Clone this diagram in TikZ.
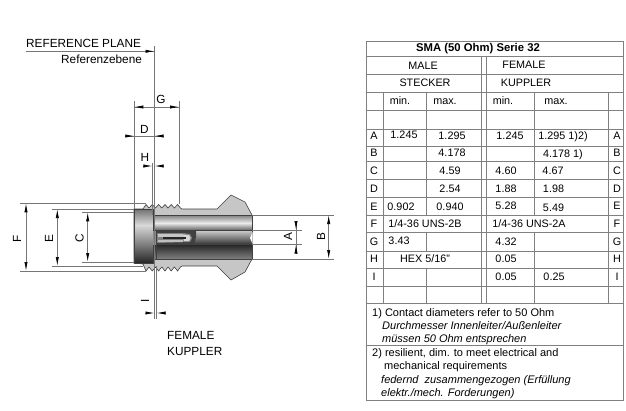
\documentclass[tikz,border=0pt]{standalone}
\usepackage{fontspec}
\setmainfont{Liberation Sans}
\usetikzlibrary{arrows.meta}
\definecolor{dimgray}{HTML}{767676}
\definecolor{rulegray}{HTML}{808080}
\definecolor{bodygray}{HTML}{C6C6C6}
\tikzset{
  dimline/.style={draw=dimgray,line width=0.7pt},
  gridline/.style={draw=rulegray,line width=0.8pt},
  outline/.style={draw=black!75,line width=0.6pt},
  tip/.style={-{Latex[length=9pt,width=3.2pt,black]}},
  tiplr/.style={{Latex[length=9pt,width=3.2pt,black]}-{Latex[length=9pt,width=3.2pt,black]}},
  lab/.style={inner sep=0pt,font=\fontsize{10.8}{12}\selectfont,anchor=base},
  biglab/.style={inner sep=0pt,font=\fontsize{11.8}{13}\selectfont,anchor=base},
  bigl/.style={biglab,anchor=base west},
  note/.style={inner sep=0pt,font=\fontsize{11}{12}\selectfont,anchor=base west},
  notei/.style={note,font=\fontsize{11}{12}\selectfont\itshape},
}
\begin{document}
\begin{tikzpicture}[x=1pt,y=-1pt]
\useasboundingbox (0,0) rectangle (626,410);
% ---- connector body
\path[fill=bodygray,outline] (134,209) -- (143,209) -- (146,204.5) -- (149,208) -- (152.3,204.5) -- (155.5,208) -- (158.6,204.5) -- (161.8,208) -- (165,204.5) -- (168,208) -- (171.2,204.5) -- (174.4,208) -- (177.6,204.5) -- (180.5,208) -- (182,209)
  -- (217,209) -- (231,195) -- (245,202) -- (252,215) -- (252,259) -- (245,272) -- (231,280) -- (217,266)
  -- (182,266) -- (180.5,267) -- (177.6,271) -- (174.4,267) -- (171.2,271) -- (168,267) -- (165,271) -- (161.8,267) -- (158.6,271) -- (155.5,267) -- (152.3,271) -- (149,267) -- (146,271) -- (143,264) -- (134,263) -- cycle;
% cap
\shade[top color=black!55,bottom color=black!15] (134.3,209) rectangle (153,225);
\shade[top color=black!15,bottom color=black!85] (134.3,225) rectangle (153,263);
\draw[outline] (134.3,209) rectangle (153,263);
% tube bands
\shade[top color=black!50,bottom color=black!8] (153,215) rectangle (252,223);
\shade[top color=black!8,bottom color=black!60] (153,223) rectangle (252,230);
\shade[top color=black!18,bottom color=black!80] (153,230) rectangle (252,244.5);
\shade[top color=black!85,bottom color=black!50] (153,244.5) rectangle (252,259);
\draw[outline] (153,215) rectangle (252,259);
\draw[outline] (153,230) -- (252,230) (153,244.5) -- (252,244.5);
\fill[white] (252.6,232) -- (250,238) -- (252.6,244) -- cycle;
% pin
\fill[black!75] (153,231) -- (196,231) -- (196,237) -- (194,244.5) -- (153,244.5) -- cycle;
\fill[black!45] (153,231) rectangle (157,244.5);
\draw[outline] (156.7,231) -- (156.7,259);
\fill[black!50] (157,233) -- (183,233) -- (190,234) -- (192,238) -- (190,242) -- (157,243) -- cycle;
\fill[black!22] (158,234) rectangle (183,236.5);
\fill[black!15] (183,234.5) -- (189,235) -- (190.5,238) -- (189,241) -- (184,241) -- cycle;
\fill[black!85] (163,237) rectangle (186,239);
\fill[black!25] (158,240) rectangle (183,242);
% ---- dimension lines
\draw[dimline] (26,51.3) -- (154.5,51.3);
\draw[tip,dimline] (143,51.3) -- (154.5,51.3);
\draw[dimline] (154.5,46) -- (154.5,319);
\draw[dimline] (134.3,101) -- (134.3,209);
\draw[dimline] (179,101) -- (179,204);
\draw[dimline] (152.4,163) -- (152.4,215);
\draw[dimline] (156.5,266) -- (156.5,319);
% G
\draw[dimline] (134.3,107) -- (179,107);
\draw[tip,dimline] (144,107) -- (134.3,107);
\draw[tip,dimline] (170,107) -- (179,107);
% D
\draw[dimline] (125,136) -- (164,136);
\draw[tip,dimline] (125,136) -- (134.3,136);
\draw[tip,dimline] (164,136) -- (154.5,136);
% H
\draw[tip,dimline] (143,166) -- (152.4,166);
\draw[tip,dimline] (164,166) -- (154.5,166);
% I
\draw[tip,dimline] (145,313) -- (154.5,313);
\draw[tip,dimline] (166,313) -- (156.5,313);
% F E C
\draw[dimline] (20,203.3) -- (146,203.3) (20,271) -- (146,271);
\draw[tiplr,dimline] (26,203.3) -- (26,271);
\draw[dimline] (52,209) -- (134,209) (52,266) -- (143,266);
\draw[tiplr,dimline] (57.3,209) -- (57.3,266);
\draw[dimline] (82,212.3) -- (134,212.3) (82,262) -- (134,262);
\draw[tiplr,dimline] (87.7,212.3) -- (87.7,262);
% A B
\draw[dimline] (252,230) -- (302,230) (252,244.5) -- (302,244.5);
\draw[dimline] (296,221) -- (296,254);
\draw[tip,dimline] (296,221) -- (296,230);
\draw[tip,dimline] (296,254) -- (296,244.5);
\draw[dimline] (252,215) -- (334,215) (252,259) -- (334,259);
\draw[tiplr,dimline] (328.7,215) -- (328.7,259);
% ---- drawing labels
\node[bigl] (refplane) at (26,47) {REFERENCE PLANE};
\node[bigl] (refebene) at (61,63) {Referenzebene};
\node[biglab] (lg) at (161,103.5) {G};
\node[biglab] (ld) at (144.5,133) {D};
\node[biglab] (lh) at (145,161.5) {H};
\node[biglab,rotate=90,anchor=base] (li) at (149,301) {I};
\node[biglab,rotate=90] (lf) at (21,239) {F};
\node[biglab,rotate=90] (le) at (53,239) {E};
\node[biglab,rotate=90] (lc) at (83.5,238) {C};
\node[biglab,rotate=90] (la) at (292,237) {A};
\node[biglab,rotate=90] (lb) at (325,237) {B};
\node[bigl] (fem) at (167,339.5) {FEMALE};
\node[bigl] (kup) at (167,355.5) {KUPPLER};
% ---- table
\draw[gridline] (366.7,41.7) rectangle (623,400);
\foreach \yy in {56.7,74.3,92.3,110,129,146.7,161,179,197.5,215.5,232.7,251,268.7,286,303,345.7}
  \draw[gridline] (366.7,\yy) -- (623,\yy);
\foreach \xx in {383.3,608.3}
  \draw[gridline] (\xx,92.3) -- (\xx,303);
% spanned cells: F and H rows in the male columns, F row in the female columns
\draw[gridline] (426,92.3) -- (426,215.5) (426,232.7) -- (426,251) (426,268.7) -- (426,303);
\draw[gridline] (534,92.3) -- (534,215.5) (534,232.7) -- (534,303);
\foreach \xx in {481.7,486}
  \draw[gridline] (\xx,56.7) -- (\xx,303);
% header
\node[lab,font=\fontsize{11.3}{12}\selectfont\bfseries] (title) at (478,51.7) {SMA (50 Ohm) Serie 32};
\node[lab] (t1) at (423,69) {MALE};
\node[lab] (t2) at (524,68) {FEMALE};
\node[lab] (t3) at (425,86.5) {STECKER};
\node[lab] (t4) at (526,86) {KUPPLER};
\node[lab] (t5) at (400,104) {min.};
\node[lab] (t6) at (445,104.5) {max.};
\node[lab] (t7) at (503,104) {min.};
\node[lab] (t8) at (556,104.5) {max.};
% rows
\node[lab] (ra) at (374,139.5) {A};
\node[lab] (a1) at (404,138) {1.245};
\node[lab] (a2) at (452,139.5) {1.295};
\node[lab] (a3) at (510,139.5) {1.245};
\node[lab] (a4) at (563,139) {1.295 1)2)};
\node[lab] (ar) at (617,139.5) {A};
\node[lab] (rb) at (374,156.5) {B};
\node[lab] (b2) at (452,156.5) {4.178};
\node[lab] (b4) at (563,157) {4.178 1)};
\node[lab] (br) at (617,156.5) {B};
\node[lab] (rc) at (374,174.5) {C};
\node[lab] (c2) at (450,174.5) {4.59};
\node[lab] (c3) at (506,174.5) {4.60};
\node[lab] (c4) at (553,174.5) {4.67};
\node[lab] (cr) at (617,174.5) {C};
\node[lab] (rd) at (374,192) {D};
\node[lab] (d2) at (450,192) {2.54};
\node[lab] (d3) at (506,192.5) {1.88};
\node[lab] (d4) at (553.5,192) {1.98};
\node[lab] (dr) at (617,192) {D};
\node[lab] (re) at (374,210) {E};
\node[lab] (e1) at (401,210) {0.902};
\node[lab] (e2) at (450,210) {0.940};
\node[lab] (e3) at (506,209.5) {5.28};
\node[lab] (e4) at (553.5,211) {5.49};
\node[lab] (er) at (617,209.5) {E};
\node[lab] (rf) at (374,227) {F};
\node[lab] (f1) at (425,227) {1/4-36 UNS-2B};
\node[lab] (f3) at (529,227) {1/4-36 UNS-2A};
\node[lab] (fr) at (617,227) {F};
\node[lab] (rg) at (374,245) {G};
\node[lab] (g1) at (399,244) {3.43};
\node[lab] (g3) at (506,245) {4.32};
\node[lab] (gr) at (617,245) {G};
\node[lab] (rh) at (374,262) {H};
\node[lab] (h1) at (425,262) {HEX 5/16"};
\node[lab] (h3) at (506,262.5) {0.05};
\node[lab] (hr) at (617,262) {H};
\node[lab] (ri) at (374,280) {I};
\node[lab] (i3) at (506,280) {0.05};
\node[lab] (i4) at (554,280) {0.25};
\node[lab] (ir) at (617,280) {I};
% notes
\node[note] (n1) at (372,316) {1) Contact diameters refer to 50 Ohm};
\node[notei] (n2) at (382,329) {Durchmesser Innenleiter/Außenleiter};
\node[notei] (n3) at (382,342) {müssen 50 Ohm entsprechen};
\node[note] (n4) at (372,356) {2) resilient, dim. to meet electrical and};
\node[note] (n5) at (384,369) {mechanical requirements};
\node[notei] (n6) at (381,383) {federnd\ \ zusammengezogen (Erfüllung};
\node[notei] (n7) at (381,396) {elektr./mech. Forderungen)};
\end{tikzpicture}
\end{document}
